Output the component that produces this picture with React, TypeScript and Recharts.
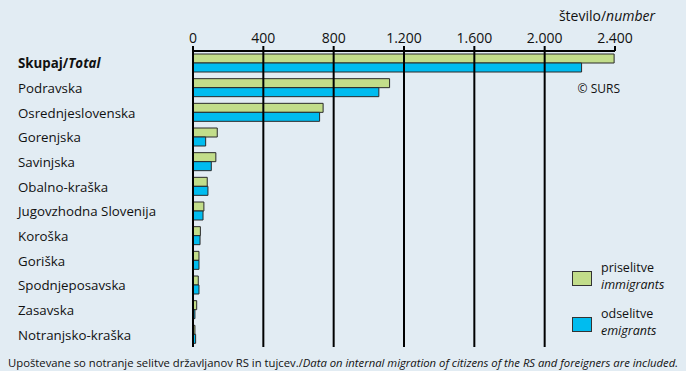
import React from 'react';
import { BarChart, Bar, XAxis, YAxis, ReferenceLine } from 'recharts';

const regions = [
  'Skupaj/Total',
  'Podravska',
  'Osrednjeslovenska',
  'Gorenjska',
  'Savinjska',
  'Obalno-kraška',
  'Jugovzhodna Slovenija',
  'Koroška',
  'Goriška',
  'Spodnjeposavska',
  'Zasavska',
  'Notranjsko-kraška',
];
const immigrants = [2395, 1118, 740, 138, 130, 81, 62, 42, 34, 30, 21, 11];
const emigrants = [2210, 1057, 720, 72, 104, 85, 57, 40, 34, 34, 11, 15];
const xTicks = [0, 400, 800, 1200, 1600, 2000, 2400];
const gridValues = [400, 800, 1200, 1600, 2000];

const data = regions.map((name, i) => ({ name, imm: immigrants[i], emi: emigrants[i] }));

const BG = '#e2ecf3';
const GREEN = '#c2dd8a';
const BLUE = '#00bcef';
const FONT = '"Open Sans", "Noto Sans", sans-serif';

const fmt = (v: number) => v.toLocaleString('de-DE');

function RegionTick(props: any) {
  const { y, payload } = props;
  const label: string = payload.value;
  const [sl, en] = label.split('/');
  return (
    <text x={18} y={y} dy={5} fontSize={13.3} fill="#111" fontFamily={FONT} textAnchor="start">
      {en ? (
        <>
          <tspan fontWeight="bold">{sl}/</tspan>
          <tspan fontWeight="bold" fontStyle="italic">{en}</tspan>
        </>
      ) : (
        sl
      )}
    </text>
  );
}

export default function App() {
  return (
    <div style={{ position: 'absolute', left: 0, top: 0, width: 686, height: 371, background: BG, fontFamily: FONT }}>
      <BarChart
        width={686}
        height={371}
        data={data}
        layout="vertical"
        margin={{ top: 21, right: 71, left: 0, bottom: 24 }}
        barSize={9}
        barGap={0}
      >
        <XAxis
          type="number"
          orientation="top"
          domain={[0, 2400]}
          ticks={xTicks}
          tickFormatter={fmt}
          height={30}
          axisLine={{ stroke: '#000', strokeWidth: 2 }}
          tickLine={{ stroke: '#000', strokeWidth: 2 }}
          tickSize={5}
          tickMargin={3}
          tick={{ fill: '#111', fontSize: 14, fontFamily: FONT }}
          interval={0}
        />
        <YAxis
          type="category"
          dataKey="name"
          width={193}
          axisLine={{ stroke: '#000', strokeWidth: 2 }}
          tickLine={false}
          tick={<RegionTick />}
          interval={0}
        />
        {gridValues.map((v) => (
          <ReferenceLine key={v} x={v} stroke="#000" strokeWidth={2} />
        ))}
        <Bar dataKey="imm" fill={GREEN} stroke="#2a2a2a" strokeWidth={1} isAnimationActive={false} />
        <Bar dataKey="emi" fill={BLUE} stroke="#2a2a2a" strokeWidth={1} isAnimationActive={false} />
      </BarChart>
      <svg width={686} height={371} style={{ position: 'absolute', left: 0, top: 0, pointerEvents: 'none' }}>
        <text x={655} y={21} textAnchor="end" fontSize={14} fill="#111" fontFamily={FONT}>
          število/<tspan fontStyle="italic">number</tspan>
        </text>
        <text x={620} y={93} textAnchor="end" fontSize={12} fill="#111" fontFamily={FONT}>
          © SURS
        </text>
        <rect x={572.5} y={271.5} width={19} height={14} fill={GREEN} stroke="#333" strokeWidth={1} />
        <text x={601} y={272} fontSize={12.5} fill="#111" fontFamily={FONT}>priselitve</text>
        <text x={601} y={289} fontSize={12.5} fill="#111" fontFamily={FONT} fontStyle="italic">immigrants</text>
        <rect x={572.5} y={317.5} width={19} height={14} fill={BLUE} stroke="#333" strokeWidth={1} />
        <text x={601} y={318} fontSize={12.5} fill="#111" fontFamily={FONT}>odselitve</text>
        <text x={601} y={335} fontSize={12.5} fill="#111" fontFamily={FONT} fontStyle="italic">emigrants</text>
        <text x={8} y={367} fontSize={11} fill="#111" fontFamily={FONT} textLength={670} lengthAdjust="spacingAndGlyphs">
          Upoštevane so notranje selitve državljanov RS in tujcev./
          <tspan fontStyle="italic">Data on internal migration of citizens of the RS and foreigners are included.</tspan>
        </text>
      </svg>
    </div>
  );
}
